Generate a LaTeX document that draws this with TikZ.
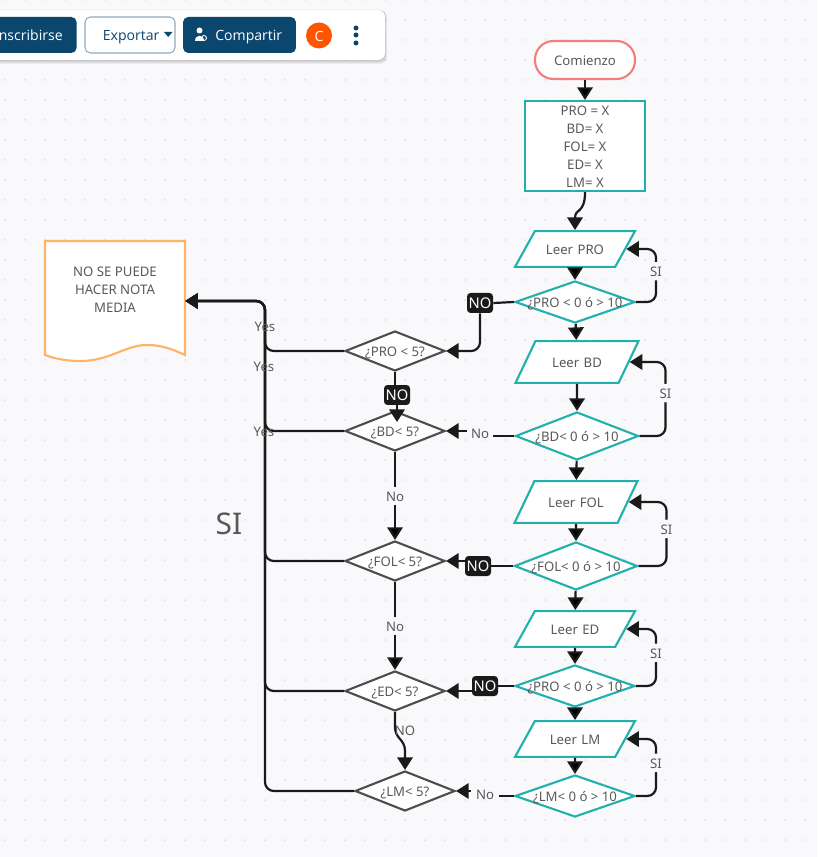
\documentclass[tikz,border=0pt]{standalone}
\usepackage{fontspec}
\setmainfont{Noto Sans}
\newfontfamily\barfont{Open Sans}
\usetikzlibrary{shapes.geometric, arrows.meta}

\definecolor{fondo}{HTML}{F9F9FC}
\definecolor{punto}{HTML}{DEDEE4}
\definecolor{verde}{HTML}{22B0AC}
\definecolor{rosa}{HTML}{F47C7C}
\definecolor{naranja}{HTML}{FFB366}
\definecolor{gris}{HTML}{4D4D4D}
\definecolor{texto}{HTML}{595959}
\definecolor{negro}{HTML}{1A1A1A}
\definecolor{azul}{HTML}{0B466E}
\definecolor{avatar}{HTML}{FF5500}

\newcommand{\dtxt}[1]{\makebox[0pt]{#1}}
\newcommand{\bfuente}{\barfont\fontsize{8}{9}\selectfont}

\tikzset{
    every node/.style={font=\fontsize{7.5}{10.2}\selectfont, text=texto, text height=6.5pt, text depth=0pt},
    inicio/.style={rectangle, rounded corners=10.5pt, draw=rosa, fill=white, line width=1.2pt, minimum width=2cm, minimum height=.76cm},
    caja/.style={rectangle, draw=verde, fill=white, line width=1.2pt, minimum width=2.4cm, minimum height=1.8cm, align=center, inner sep=0pt, text height=, text depth=},
    leer/.style={trapezium, trapezium left angle=61, trapezium right angle=119, draw=verde, fill=white, line width=1.2pt, inner ysep=0pt, inner xsep=0pt, text width=1.6cm, align=center, text height=13.5pt, text depth=6.9pt, trapezium stretches body, minimum width=2.4cm},
    leeralto/.style={leer, trapezium left angle=64.5, trapezium right angle=115.5, text height=15pt, text depth=8.8pt, minimum width=2.46cm},
    comp/.style={diamond, draw=verde, fill=white, line width=1.2pt, minimum width=2.4cm, minimum height=.84cm, inner sep=0pt},
    compalto/.style={comp, minimum width=2.46cm, minimum height=.96cm},
    nota/.style={diamond, draw=gris, fill=white, line width=1.2pt, minimum width=2cm, minimum height=.8cm, inner sep=0pt},
    flecha/.style={draw=negro, line width=1.25pt, -{Triangle[length=7.2pt,width=8.8pt]}},
    linea/.style={draw=negro, line width=1.25pt},
    cartel/.style={rectangle, rounded corners=2pt, fill=negro, text=white, minimum width=.52cm, minimum height=.4cm, inner sep=0pt, font=\fontsize{8.4}{10}\selectfont},
    rotulo/.style={fill=fondo, inner sep=2pt},
    boton/.style={rectangle, rounded corners=3pt, fill=azul, minimum height=.72cm, inner sep=0pt},
}

\begin{document}
\begin{tikzpicture}[x=.02cm, y=-.02cm]
    % fondo
    \fill[fondo] (0,0) rectangle (817,857);
    \useasboundingbox (0,0) rectangle (817,857);
    \foreach \i in {0,...,40}
        \foreach \j in {0,...,42}
            \fill[punto] (5+20*\i,20*\j) circle (1);

    % barra
    \foreach \s in {1,...,4}
        \fill[black, opacity=.05, rounded corners=4pt] (-20,10) rectangle (385+\s/2,60+\s);
    \fill[white, rounded corners=4pt] (-20,10) rectangle (385,60);
    \node[boton, minimum width=1.94cm, anchor=east] (inscribirse) at (77,35) {};
    \node[anchor=east, text=white, inner sep=0pt, font=\bfuente] (tinscribirse) at (63,35) {nscribirse};
    \node[rectangle, rounded corners=3pt, draw=azul!45, fill=white, line width=.6pt, minimum width=1.8cm, minimum height=.72cm] (exportar) at (130,35) {};
    \node[text=azul, anchor=west, inner sep=0pt, font=\bfuente] (texportar) at (102.5,35) {Exportar};
    \fill[azul] (164,32) -- (172.5,32) -- (168.2,37) -- cycle;
    \node[boton, minimum width=2.26cm] (compartir) at (239.5,35) {};
    \node[text=white, anchor=west, inner sep=0pt, font=\bfuente] (tcompartir) at (215,35) {Compartir};
    \fill[white] (199.5,30.5) circle (3);
    \fill[white] (195,41) .. controls (195,34) and (204,34) .. (204,41) -- cycle;
    \draw[white, line width=.5pt] (204,38) circle (2.5);
    \node[circle, fill=avatar, minimum size=.52cm, inner sep=0pt, text=white, font=\bfuente] (usuario) at (319,35.5) {C};
    \foreach \y in {28,35,43}
        \fill[azul] (356,\y) circle (2.5);

    % documento
    \draw[naranja, fill=white, line width=1.2pt] (45,241) -- (185,241) -- (185,355)
        .. controls (170,348) and (160,345) .. (147,345)
        .. controls (125,345) and (110,361) .. (80,361)
        .. controls (68,361) and (55,359) .. (45,355) -- cycle;
    \node[inner sep=0pt, minimum width=2.8cm, minimum height=2.4cm] (documento) at (115,301) {};
    \node[align=center, inner sep=0pt, text height=, text depth=] (tdocumento) at (115,290) {NO SE PUEDE\\HACER NOTA\\MEDIA};

    % columna derecha
    \node[inicio] (comienzo) at (585,60) {Comienzo};
    \node[caja] (datos) at (585,146) {\rule{0pt}{6.6pt}PRO = X\\BD= X\\FOL= X\\ED= X\\LM= X};
    \node[leer] (lpro) at (575,249) {Leer PRO};
    \node[comp] (cpro) at (575,302) {\dtxt{¿PRO < 0 ó > 10}};
    \node[leeralto] (lbd) at (577,362) {Leer BD};
    \node[compalto] (cbd) at (577,436) {\dtxt{¿BD< 0 ó > 10}};
    \node[leeralto] (lfol) at (576,502) {Leer FOL};
    \node[compalto] (cfol) at (576,566) {\dtxt{¿FOL< 0 ó > 10}};
    \node[leer] (led) at (575,629) {Leer ED};
    \node[comp] (ced) at (575,686) {\dtxt{¿PRO < 0 ó > 10}};
    \node[leer] (llm) at (575,739) {Leer LM};
    \node[comp] (clm) at (575,796) {\dtxt{¿LM< 0 ó > 10}};

    % columna izquierda
    \node[nota] (npro) at (395,351) {\dtxt{¿PRO < 5?}};
    \node[nota] (nbd) at (395,431) {\dtxt{¿BD< 5?}};
    \node[nota] (nfol) at (395,561) {\dtxt{¿FOL< 5?}};
    \node[nota] (ned) at (395,691) {\dtxt{¿ED< 5?}};
    \node[nota] (nlm) at (405,791) {\dtxt{¿LM< 5?}};

    \coordinate (tronco) at (265,301);
    \coordinate (bdalto) at (397,422);

    \foreach \n in {npro,nbd,nfol,ned,nlm}
        \draw[flecha, rounded corners=5pt] (\n.west) -| (tronco) -- (documento.east);

    \path[flecha]
        (comienzo) edge (datos)
        (lpro) edge (cpro)
        (cpro) edge (lbd)
        (lbd) edge (cbd)
        (cbd) edge (lfol)
        (lfol) edge (cfol)
        (cfol) edge (led)
        (led) edge (ced)
        (ced) edge (llm)
        (llm) edge (clm)
        (nbd) edge node[rotulo] {No} (nfol)
        (nfol) edge node[rotulo] {No} (ned);

    \draw[flecha] (datos.south) .. controls +(0,22) and +(0,-22) .. (lpro.north);
    \draw[flecha] (ned.south) -- ++(0,15) .. controls +(0,12) and +(0,-12) .. ++(10,24) -- (nlm.north);
    \node (noed) at (405,730) {NO};

    % bucles SI
    \draw[flecha, rounded corners=5pt] (cpro.east) -- ++(20,0) |- node[rotulo, pos=.29] (sipro) {SI} (lpro.east);
    \draw[flecha, rounded corners=5pt] (cbd.east) -- ++(26,0) |- node[rotulo, pos=.29] (sibd) {SI} (lbd.east);
    \draw[flecha, rounded corners=5pt] (cfol.east) -- ++(28,0) |- node[rotulo, pos=.29] (sifol) {SI} (lfol.east);
    \draw[flecha, rounded corners=5pt] (ced.east) -- ++(20,0) |- node[rotulo, pos=.29] (sied) {SI} (led.east);
    \draw[flecha, rounded corners=5pt] (clm.east) -- ++(20,0) |- node[rotulo, pos=.29] (silm) {SI} (llm.east);

    % salidas
    \node[cartel] (nopro) at (480,303) {NO};
    \path[linea] (cpro.west) -- (nopro.east);
    \draw[flecha, rounded corners=5pt] (nopro.south) |- (npro.east);

    \node[cartel] (nobd) at (397,395) {NO};
    \path[linea] (npro.south) -- (npro.south |- nobd.north);
    \draw[flecha] (nobd.south) -- (bdalto);

    \node[inner sep=0pt, minimum width=.5cm] (sbd) at (480,433) {No};
    \path[linea] (cbd.west) -- (sbd.east |- cbd.west);
    \draw[flecha] (sbd.west |- nbd.east) -- (nbd.east);

    \node[cartel] (sfol) at (478,566) {NO};
    \path[linea] (cfol.west) -- (sfol.east);
    \draw[flecha] (sfol.west |- nfol.east) -- (nfol.east);

    \node[cartel] (sed) at (485,686) {NO};
    \path[linea] (ced.west) -- (sed.east);
    \draw[flecha] (sed.west |- ned.east) -- (ned.east);

    \node[inner sep=0pt, minimum width=.56cm] (slm) at (485,794) {No};
    \path[linea] (clm.west) -- (slm.east |- clm.west);
    \draw[flecha] (slm.west |- nlm.east) -- (nlm.east);

    % textos sueltos
    \node (yespro) at (265,326) {Yes};
    \node (yesmed) at (264,366) {Yes};
    \node (yesbd) at (264,431) {Yes};
    \node[font=\fontsize{17}{20}\selectfont, text height=, text depth=] (si) at (229,524) {SI};
\end{tikzpicture}
\end{document}
